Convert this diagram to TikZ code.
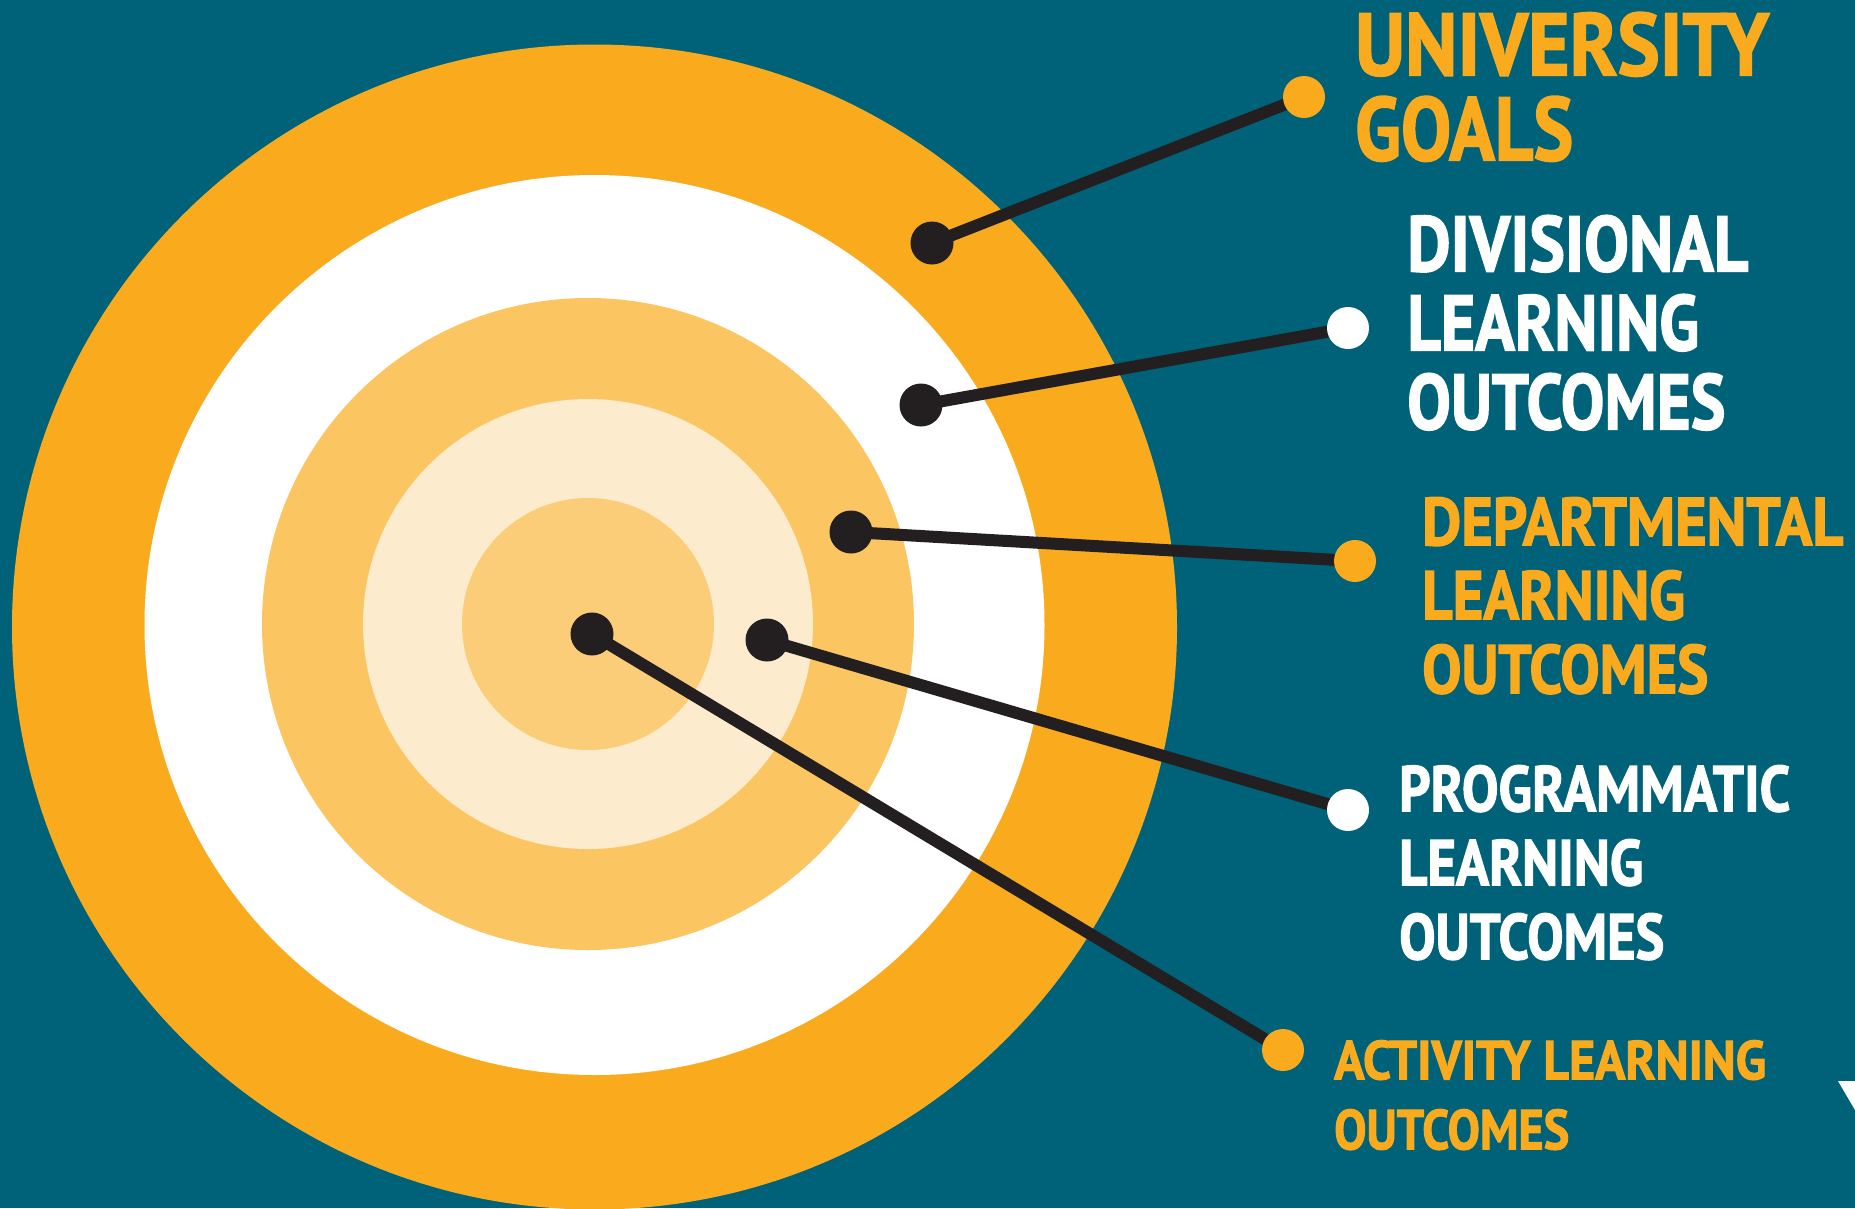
\documentclass[tikz,border=0pt]{standalone}
\usepackage{fontspec}
\setmainfont{PT Sans}[BoldFeatures={FakeBold=2}]
\usepackage{graphicx}
\definecolor{bgteal}{HTML}{006279}
\definecolor{ringorange}{HTML}{F9AB1D}
\definecolor{ringmid}{HTML}{FBC561}
\definecolor{ringpale}{HTML}{FDEBCD}
\definecolor{ringinner}{HTML}{FCCD79}
\definecolor{inkblack}{HTML}{231F20}
\newcommand{\labline}[3]{\resizebox{#1pt}{#2pt}{\bfseries #3}}
\begin{document}
\begin{tikzpicture}[x=1pt,y=-1pt,
  blackdot/.style={circle,fill=inkblack,inner sep=0pt,minimum size=43pt},
  enddot/.style={circle,inner sep=0pt,minimum size=42pt},
  connector/.style={draw=inkblack,line width=12pt},
  lbl/.style={anchor=north west,inner sep=0pt,align=left}]
\useasboundingbox (0,0) rectangle (1855,1208);
\clip (0,0) rectangle (1855,1208);
\fill[bgteal] (0,0) rectangle (1855,1208);
% target rings
\fill[ringorange] (594.5,627) circle[radius=582.5pt];
\fill[white] (594.5,625) circle[radius=450pt];
\fill[ringmid] (588,624) circle[radius=326pt];
\fill[ringpale] (588,624) circle[radius=225pt];
\fill[ringinner] (588,624) circle[radius=126pt];
% inner points
\coordinate (p1) at (932,243);
\coordinate (p2) at (921,405);
\coordinate (p3) at (851,532);
\coordinate (p4) at (767,640);
\coordinate (p5) at (592,634);
% outer points
\coordinate (q1) at (1304,97);
\coordinate (q2) at (1348,328);
\coordinate (q3) at (1355,561);
\coordinate (q4) at (1348,810);
\coordinate (q5) at (1283,1050);
% connectors
\draw[connector] (p1) -- (q1);
\draw[connector] (p2) -- (q2);
\draw[connector] (p3) -- (q3);
\draw[connector] (p4) -- (q4);
\draw[connector] (p5) -- (q5);
% dots
\node[blackdot] (n1) at (p1) {};
\node[blackdot] (n2) at (p2) {};
\node[blackdot] (n3) at (p3) {};
\node[blackdot] (n4) at (p4) {};
\node[blackdot] (n5) at (p5) {};
\node[enddot,fill=ringorange] (m1) at (q1) {};
\node[enddot,fill=white] (m2) at (q2) {};
\node[enddot,fill=ringorange] (m3) at (q3) {};
\node[enddot,fill=white] (m4) at (q4) {};
\node[enddot,fill=ringorange] (m5) at (q5) {};
% labels
\node[lbl,text=ringorange,font=\fontsize{10pt}{85pt}\selectfont] (t1) at (1355,12)
  {\labline{414}{63}{UNIVERSITY}\\\labline{218}{64}{GOALS}};
\node[lbl,text=white,font=\fontsize{10pt}{79pt}\selectfont] (t2) at (1407,215)
  {\labline{341}{56}{DIVISIONAL}\\\labline{292}{56}{LEARNING}\\\labline{318}{56}{OUTCOMES}};
\node[lbl,text=ringorange,font=\fontsize{10pt}{74pt}\selectfont] (t3) at (1422,497)
  {\labline{421}{48}{DEPARTMENTAL}\\\labline{263}{49}{LEARNING}\\\labline{286}{49}{OUTCOMES}};
\node[lbl,text=white,font=\fontsize{10pt}{74pt}\selectfont] (t4) at (1399,765)
  {\labline{391}{46}{PROGRAMMATIC}\\\labline{244}{46}{LEARNING}\\\labline{265}{46}{OUTCOMES}};
\node[lbl,text=ringorange,font=\fontsize{10pt}{70pt}\selectfont] (t5) at (1334,1040)
  {\labline{432}{39}{ACTIVITY LEARNING}\\\labline{235}{40}{OUTCOMES}};
% corner mark
\fill[white] (1838,1081) -- (1855,1081) -- (1855,1110) -- cycle;
\end{tikzpicture}
\end{document}
